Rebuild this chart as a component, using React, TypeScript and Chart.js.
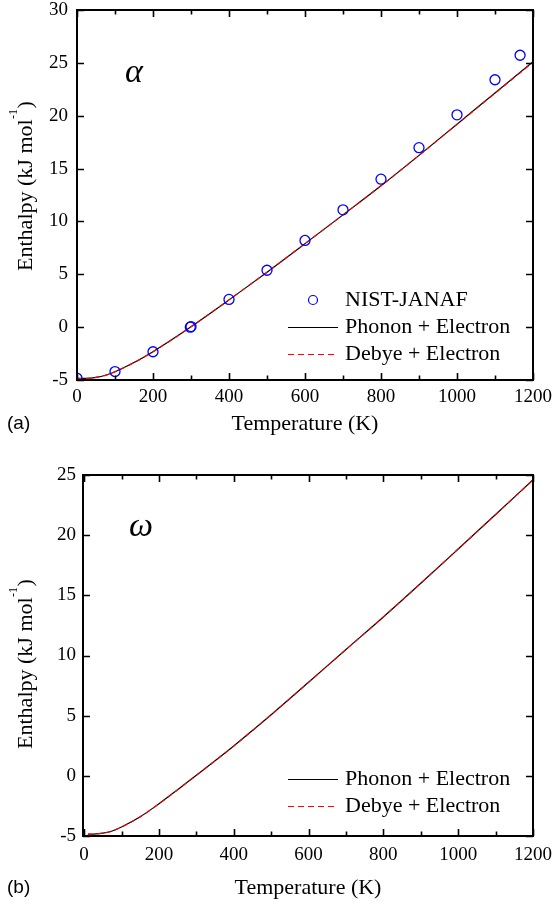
import React, { useEffect, useRef } from "react";
import { Chart, registerables } from "chart.js";

Chart.register(...registerables);

// ---------- data ----------
const xTickValues = [0, 200, 400, 600, 800, 1000, 1200];
const xMinorTickValues = [100, 300, 500, 700, 900, 1100];
const yTickValuesA = [-5, 0, 5, 10, 15, 20, 25, 30];
const yTickValuesB = [-5, 0, 5, 10, 15, 20, 25];

// (a) alpha phase
const nistTemps = [0, 100, 200, 298.15, 300, 400, 500, 600, 700, 800, 900, 1000, 1100, 1166];
const nistEnthalpy = [-4.83, -4.2, -2.33, 0, 0.05, 2.62, 5.38, 8.2, 11.1, 14.0, 16.98, 20.08, 23.4, 25.72];

const alphaTemps = [0, 25, 50, 75, 100, 150, 200, 250, 300, 350, 400, 450, 500, 600, 700, 800, 900, 1000, 1100, 1200];
const alphaPhonon = [-4.85, -4.84, -4.75, -4.55, -4.22, -3.35, -2.32, -1.18, 0.03, 1.29, 2.58, 3.88, 5.2, 7.9, 10.62, 13.37, 16.25, 19.2, 22.15, 25.1];
const alphaDebye = [-4.86, -4.85, -4.76, -4.56, -4.23, -3.36, -2.33, -1.18, 0.03, 1.29, 2.58, 3.88, 5.2, 7.9, 10.62, 13.37, 16.24, 19.18, 22.12, 25.05];

// (b) omega phase
const omegaTemps = [10, 25, 50, 75, 100, 150, 200, 250, 300, 350, 400, 450, 500, 600, 700, 800, 900, 1000, 1100, 1200];
const omegaPhonon = [-4.85, -4.84, -4.76, -4.58, -4.25, -3.4, -2.32, -1.15, 0.05, 1.25, 2.48, 3.77, 5.08, 7.78, 10.5, 13.2, 16.0, 18.85, 21.72, 24.6];
const omegaDebye = [-4.86, -4.85, -4.77, -4.59, -4.26, -3.41, -2.33, -1.16, 0.04, 1.24, 2.47, 3.76, 5.07, 7.77, 10.49, 13.2, 16.0, 18.85, 21.71, 24.58];

const labelNist = "NIST-JANAF";
const labelPhonon = "Phonon + Electron";
const labelDebye = "Debye + Electron";
const xTitle = "Temperature (K)";
const yTitleMain = "Enthalpy (kJ mol";
const yTitleSup = "-1";
const yTitleEnd = ")";

const SERIF = "'Liberation Serif', 'Times New Roman', serif";
const SANS = "'Liberation Sans', Arial, sans-serif";

const toPoints = (xs: number[], ys: number[]) => xs.map((x, i) => ({ x, y: ys[i] }));

type PanelCfg = {
  height: number;
  padTop: number;
  plotLeft: number;
  plotBottom: number;
  xMin: number;
  yMin: number;
  yMax: number;
  yTicks: number[];
  yTickPad: number;
  xTickPad: number;
  xTitlePadBottom: number;
  yTitleCenter: number;
  phase: string;
  phaseX: number;
  phaseY: number;
  panel: string;
  panelY: number;
  showNist: boolean;
  legendRows: number[];
};

function makeFramePlugin(cfg: PanelCfg) {
  return {
    id: "frameAndLegend",
    afterDatasetsDraw(chart: any) {
      const { ctx, chartArea, scales } = chart;
      const { left, right, top, bottom } = chartArea;
      const xs = scales.x;
      const ys = scales.y;
      ctx.save();
      ctx.strokeStyle = "#000";
      ctx.lineWidth = 2;
      ctx.strokeRect(left, top, right - left, bottom - top);
      ctx.lineWidth = 1.6;
      ctx.beginPath();
      const major = 7;
      const minor = 4.5;
      xTickValues.forEach((v) => {
        const px = Math.round(xs.getPixelForValue(v)) + 0.5;
        ctx.moveTo(px, bottom);
        ctx.lineTo(px, bottom - major);
        ctx.moveTo(px, top);
        ctx.lineTo(px, top + major);
      });
      xMinorTickValues.forEach((v) => {
        const px = Math.round(xs.getPixelForValue(v)) + 0.5;
        ctx.moveTo(px, bottom);
        ctx.lineTo(px, bottom - minor);
        ctx.moveTo(px, top);
        ctx.lineTo(px, top + minor);
      });
      cfg.yTicks.forEach((v) => {
        const py = Math.round(ys.getPixelForValue(v)) + 0.5;
        ctx.moveTo(left, py);
        ctx.lineTo(left + major, py);
        ctx.moveTo(right, py);
        ctx.lineTo(right - major, py);
      });
      ctx.stroke();
      ctx.restore();
    },
    afterDraw(chart: any) {
      const { ctx } = chart;
      ctx.save();
      ctx.fillStyle = "#000";

      // y-axis title with superscript
      ctx.save();
      ctx.translate(32, cfg.yTitleCenter);
      ctx.rotate(-Math.PI / 2);
      ctx.textBaseline = "alphabetic";
      ctx.textAlign = "left";
      const mainFont = `22px ${SERIF}`;
      const supFont = `12px ${SERIF}`;
      ctx.font = mainFont;
      const w1 = ctx.measureText(yTitleMain).width;
      const w3 = ctx.measureText(yTitleEnd).width;
      ctx.font = supFont;
      const w2 = ctx.measureText(yTitleSup).width;
      const total = w1 + w2 + 1 + w3;
      let u = -total / 2;
      ctx.font = mainFont;
      ctx.fillText(yTitleMain, u, 0);
      u += w1;
      ctx.font = supFont;
      ctx.fillText(yTitleSup, u + 0.5, -15);
      u += w2 + 1;
      ctx.font = mainFont;
      ctx.fillText(yTitleEnd, u, 0);
      ctx.restore();

      ctx.textBaseline = "middle";
      ctx.textAlign = "left";
      // phase label
      ctx.font = `italic 34px ${SERIF}`;
      ctx.fillText(cfg.phase, cfg.phaseX, cfg.phaseY);
      // panel label
      ctx.font = `19px ${SANS}`;
      ctx.fillText(cfg.panel, 7, cfg.panelY);
      // legend
      const lineX0 = 288;
      const lineX1 = 338;
      const textX = 345;
      const rows = cfg.legendRows;
      let r = 0;
      ctx.font = `22px ${SERIF}`;
      if (cfg.showNist) {
        const y = rows[r++];
        ctx.beginPath();
        ctx.strokeStyle = "#0000ff";
        ctx.lineWidth = 1.2;
        ctx.arc(313, y, 4.5, 0, Math.PI * 2);
        ctx.stroke();
        ctx.fillStyle = "#000";
        ctx.fillText(labelNist, textX, y);
      }
      {
        const y = rows[r++];
        ctx.beginPath();
        ctx.setLineDash([]);
        ctx.strokeStyle = "#000";
        ctx.lineWidth = 1.2;
        ctx.moveTo(lineX0, y + 0.5);
        ctx.lineTo(lineX1, y + 0.5);
        ctx.stroke();
        ctx.fillText(labelPhonon, textX, y);
      }
      {
        const y = rows[r++];
        ctx.beginPath();
        ctx.setLineDash([6, 4]);
        ctx.strokeStyle = "#ff0000";
        ctx.lineWidth = 1.2;
        ctx.moveTo(lineX0, y + 0.5);
        ctx.lineTo(lineX1, y + 0.5);
        ctx.stroke();
        ctx.setLineDash([]);
        ctx.fillText(labelDebye, textX, y);
      }
      ctx.restore();
    },
  };
}

function buildChart(canvas: HTMLCanvasElement, cfg: PanelCfg, datasets: any[]) {
  return new Chart(canvas, {
    type: "line",
    data: { datasets },
    options: {
      responsive: false,
      animation: false,
      devicePixelRatio: 1,
      layout: { padding: { top: cfg.padTop, right: 21, left: 0, bottom: 0 } },
      plugins: { legend: { display: false }, tooltip: { enabled: false } },
      elements: { line: { cubicInterpolationMode: "monotone" } },
      scales: {
        x: {
          type: "linear",
          min: cfg.xMin,
          max: 1200,
          grid: { display: false, drawTicks: false },
          border: { display: false },
          afterBuildTicks: (s: any) => {
            s.ticks = xTickValues.map((v) => ({ value: v }));
          },
          afterFit: (s: any) => {
            s.height = cfg.height - cfg.plotBottom;
            s.paddingLeft = 0;
            s.paddingRight = 0;
            s.paddingTop = 0;
            s.paddingBottom = 0;
          },
          ticks: {
            autoSkip: false,
            maxRotation: 0,
            color: "#000",
            padding: cfg.xTickPad,
            font: { family: SERIF, size: 19, lineHeight: 1 },
            callback: (v: any) => String(v),
          },
          title: {
            display: true,
            text: xTitle,
            color: "#000",
            font: { family: SERIF, size: 22 },
            padding: { top: 0, bottom: cfg.xTitlePadBottom },
          },
        },
        y: {
          type: "linear",
          min: cfg.yMin,
          max: cfg.yMax,
          grid: { display: false, drawTicks: false },
          border: { display: false },
          afterBuildTicks: (s: any) => {
            s.ticks = cfg.yTicks.map((v) => ({ value: v }));
          },
          afterFit: (s: any) => {
            s.width = cfg.plotLeft;
            s.paddingLeft = 0;
            s.paddingRight = 0;
            s.paddingTop = 0;
            s.paddingBottom = 0;
          },
          ticks: {
            color: "#000",
            padding: cfg.yTickPad,
            font: { family: SERIF, size: 19, lineHeight: 1 },
            callback: (v: any) => String(v),
          },
          title: { display: false },
        },
      },
    },
    plugins: [makeFramePlugin(cfg)],
  } as any);
}

const lineSet = (label: string, xs: number[], ys: number[], color: string, dash: number[], order: number) => ({
  label,
  data: toPoints(xs, ys),
  borderColor: color,
  backgroundColor: color,
  borderWidth: 1.2,
  borderDash: dash,
  pointRadius: 0,
  fill: false,
  order,
});

export default function App() {
  const refA = useRef<HTMLCanvasElement>(null);
  const refB = useRef<HTMLCanvasElement>(null);

  useEffect(() => {
    const cfgA: PanelCfg = {
      height: 452,
      padTop: 10,
      plotLeft: 77,
      plotBottom: 380,
      xMin: 0,
      yMin: -5,
      yMax: 30,
      yTicks: yTickValuesA,
      yTickPad: 9,
      xTickPad: 8,
      xTitlePadBottom: 15,
      yTitleCenter: 186,
      phase: "\u03B1",
      phaseX: 125,
      phaseY: 73,
      panel: "(a)",
      panelY: 424,
      showNist: true,
      legendRows: [300, 327, 354],
    };
    const cfgB: PanelCfg = {
      height: 452,
      padTop: 23,
      plotLeft: 83,
      plotBottom: 384,
      xMin: -3,
      yMin: -5,
      yMax: 25,
      yTicks: yTickValuesB,
      yTickPad: 7,
      xTickPad: 10,
      xTitlePadBottom: 3,
      yTitleCenter: 212,
      phase: "\u03C9",
      phaseX: 129,
      phaseY: 75,
      panel: "(b)",
      panelY: 436,
      showNist: false,
      legendRows: [327, 354],
    };
    const chartA = buildChart(refA.current!, cfgA, [
      {
        label: labelNist,
        data: toPoints(nistTemps, nistEnthalpy),
        showLine: false,
        pointStyle: "circle",
        pointRadius: 5,
        pointBorderColor: "#0000ff",
        pointBackgroundColor: "rgba(0,0,0,0)",
        pointBorderWidth: 1.3,
        borderColor: "#0000ff",
        order: 0,
      },
      lineSet(labelDebye, alphaTemps, alphaDebye, "#ff0000", [5, 4], 1),
      lineSet(labelPhonon, alphaTemps, alphaPhonon, "#000000", [], 2),
    ]);
    const chartB = buildChart(refB.current!, cfgB, [
      lineSet(labelDebye, omegaTemps, omegaDebye, "#ff0000", [5, 4], 1),
      lineSet(labelPhonon, omegaTemps, omegaPhonon, "#000000", [], 2),
    ]);
    return () => {
      chartA.destroy();
      chartB.destroy();
    };
  }, []);

  return (
    <div style={{ position: "absolute", left: 0, top: 0, width: 554, height: 904, background: "#fff" }}>
      <canvas ref={refA} width={554} height={452} style={{ display: "block", width: 554, height: 452 }} />
      <canvas ref={refB} width={554} height={452} style={{ display: "block", width: 554, height: 452 }} />
    </div>
  );
}
